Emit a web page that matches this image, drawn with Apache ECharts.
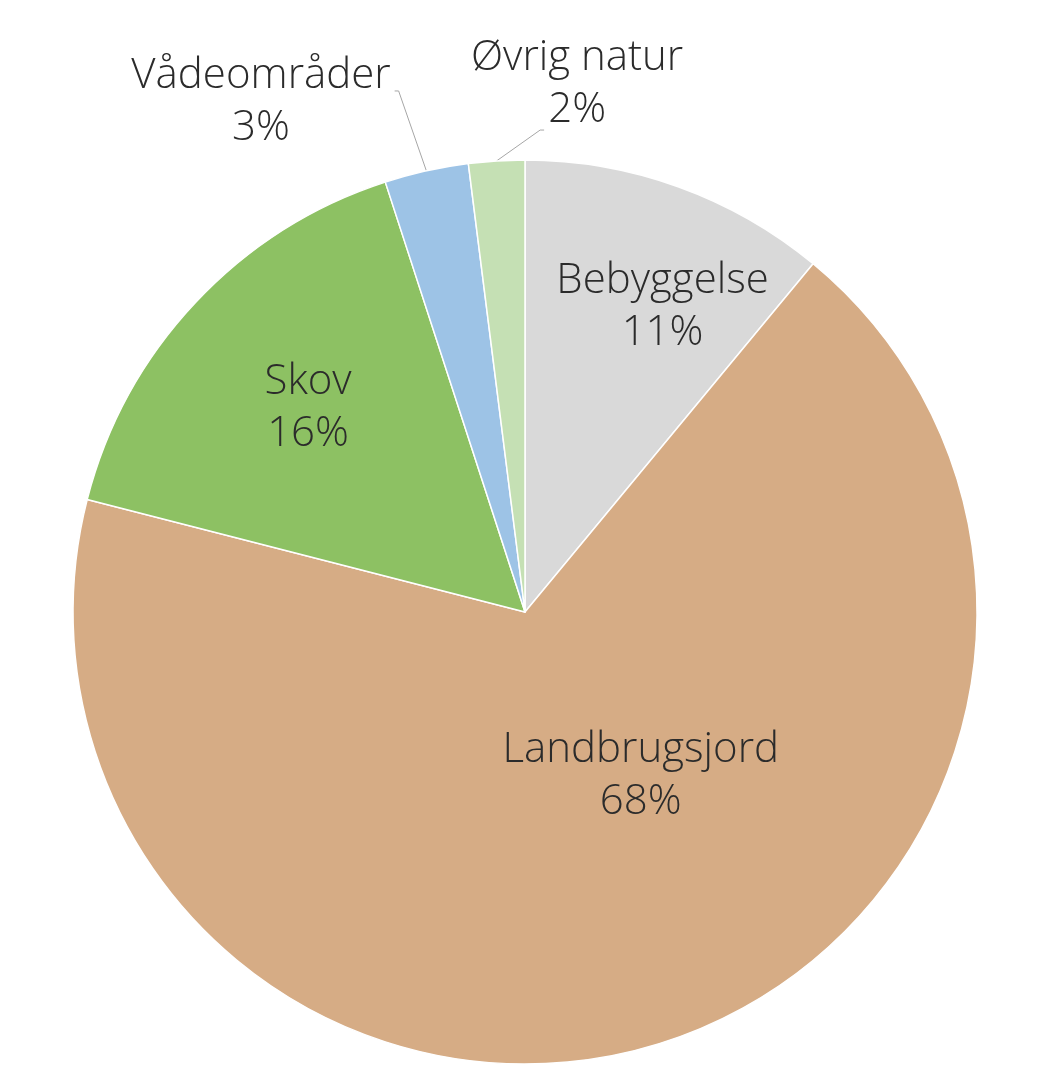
<!DOCTYPE html>
<html>
<head>
<meta charset="utf-8">
<script src="https://cdn.jsdelivr.net/npm/echarts@6/dist/echarts.min.js"></script>
<style>
html,body{margin:0;padding:0;background:#fff;}
#chart{width:1049px;height:1080px;}
</style>
</head>
<body>
<div id="chart"></div>
<script>
const categories = ['Bebyggelse', 'Landbrugsjord', 'Skov', 'Vådeområder', 'Øvrig natur'];
const values = [11, 68, 16, 3, 2];
const colors = ['#D9D9D9', '#D6AC85', '#8DC163', '#9DC3E6', '#C5E0B4'];

// label nudges (style only)
const labelShift = [[60, -90], [45, -54], [-50, -47], [-4, 15], [205, 9]];
const insideFlags = [true, true, true, false, false];
// guide line anchor relative to label box: [fraction of width, x offset, y offset from top, bend dx]
const guideAnchor = [null, null, null, [1, 4, 36, 4], [0.5, -33, 93, -4]];

const chart = echarts.init(document.getElementById('chart'), null, {renderer: 'canvas'});

const data = categories.map((name, i) => ({
  name: name,
  value: values[i],
  itemStyle: {color: colors[i]},
  label: insideFlags[i] ? {position: 'inside'} : {position: 'outside'},
  labelLine: {show: !insideFlags[i], length: 86, length2: 8, lineStyle: {color: '#A6A6A6', width: 1}}
}));

chart.setOption({
  animation: false,
  series: [{
    type: 'pie',
    center: [525, 612],
    radius: [0, 452],
    startAngle: 90,
    clockwise: true,
    avoidLabelOverlap: false,
    itemStyle: {borderColor: '#FFFFFF', borderWidth: 1.5},
    label: {
      show: true,
      formatter: '{a|{b}}\n{a|{c}%}',
      rich: {
        a: {fontFamily: 'Open Sans', fontSize: 42, fontWeight: 300, color: '#2B2B2B', lineHeight: 52, align: 'center'}
      }
    },
    labelLayout: function (params) {
      const i = params.dataIndex;
      const s = labelShift[i];
      const out = {dx: s[0], dy: s[1]};
      const g = guideAnchor[i];
      if (g && params.labelLinePoints) {
        const r = params.labelRect;
        const ex = r.x + s[0] + r.width * g[0] + g[1];
        const ey = r.y + s[1] + g[2];
        const start = params.labelLinePoints[0];
        out.labelLinePoints = [[start[0], start[1]], [ex + g[3], ey], [ex, ey]];
      }
      return out;
    },
    data: data
  }]
});
</script>
</body>
</html>
